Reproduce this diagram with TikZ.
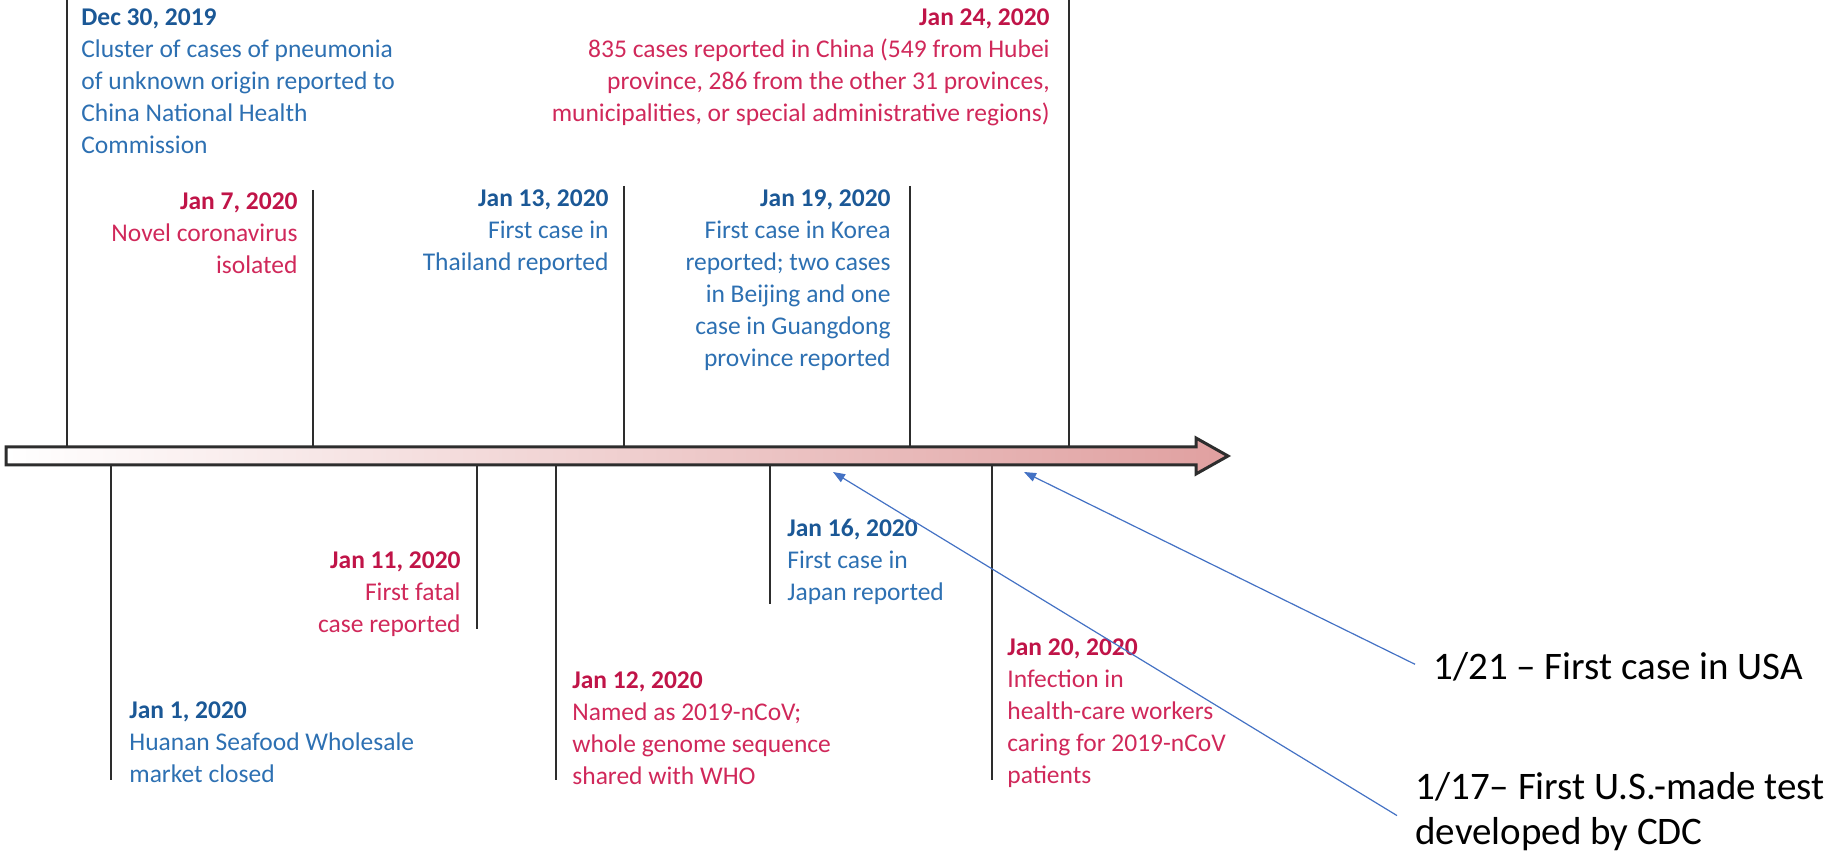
\documentclass[tikz,border=0pt]{standalone}
\usepackage{fontspec}
\setmainfont{Carlito}
\usetikzlibrary{arrows.meta}
\definecolor{bdate}{RGB}{27,88,150}
\definecolor{btext}{RGB}{45,112,178}
\definecolor{rdate}{RGB}{192,20,72}
\definecolor{rtext}{RGB}{208,40,90}
\definecolor{tickc}{RGB}{45,45,45}
\definecolor{axisr}{RGB}{224,160,160}
\definecolor{annc}{RGB}{68,114,196}
\newcommand\dtb[1]{{\bfseries\color{bdate}#1}}
\newcommand\dtr[1]{{\bfseries\color{rdate}#1}}
\begin{document}
\begin{tikzpicture}[x=0.5pt,y=-0.5pt,
  tick/.style={draw=tickc,line width=1pt},
  evb/.style={inner sep=0pt,text=btext,font=\fontsize{12.75}{16}\selectfont},
  evr/.style={inner sep=0pt,text=rtext,font=\fontsize{12.75}{16}\selectfont},
  annot/.style={draw=annc,line width=0.6pt,-{Triangle[length=6pt,width=4.5pt]}},
  note/.style={inner sep=0pt,font=\fontsize{19.5}{22.5}\selectfont,align=left}]
\useasboundingbox (0,0) rectangle (1838,854);
% axis arrow
\path[draw=tickc,line width=1.5pt,line join=miter,left color=white,right color=axisr]
  (6,447) -- (1196,447) -- (1196,438) -- (1228,456) -- (1196,474) -- (1196,465) -- (6,465) -- cycle;
% tick coordinates
\coordinate (a1) at (67,0);    \coordinate (a1b) at (67,447);
\coordinate (a2) at (313,190); \coordinate (a2b) at (313,447);
\coordinate (a3) at (624,186); \coordinate (a3b) at (624,447);
\coordinate (a4) at (910,186); \coordinate (a4b) at (910,447);
\coordinate (a5) at (1069,0);  \coordinate (a5b) at (1069,447);
\coordinate (b1) at (111,465); \coordinate (b1b) at (111,780);
\coordinate (b2) at (477,465); \coordinate (b2b) at (477,629);
\coordinate (b3) at (556,465); \coordinate (b3b) at (556,780);
\coordinate (b4) at (770,465); \coordinate (b4b) at (770,604);
\coordinate (b5) at (992,465); \coordinate (b5b) at (992,780);
\foreach \p in {a1,a2,a3,a4,a5,b1,b2,b3,b4,b5} \draw[tick] (\p) -- (\p b);
% events above
\node[evb,anchor=north west,align=left] (dec30) at (81,8)
  {\dtb{Dec 30, 2019}\\Cluster of cases of pneumonia\\of unknown origin reported to\\China National Health\\Commission};
\node[evr,anchor=north east,align=right] (jan7) at (298,192)
  {\dtr{Jan 7, 2020}\\Novel coronavirus\\isolated};
\node[evb,anchor=north east,align=right] (jan13) at (609,189)
  {\dtb{Jan 13, 2020}\\First case in\\Thailand reported};
\node[evb,anchor=north east,align=right] (jan19) at (891,189)
  {\dtb{Jan 19, 2020}\\First case in Korea\\reported; two cases\\in Beijing and one\\case in Guangdong\\province reported};
\node[evr,anchor=north east,align=right] (jan24) at (1050,8)
  {\dtr{Jan 24, 2020}\\835 cases reported in China (549 from Hubei\\province, 286 from the other 31 provinces,\\municipalities, or special administrative regions)};
% events below
\node[evb,anchor=north west,align=left] (jan1) at (129,701)
  {\dtb{Jan 1, 2020}\\Huanan Seafood Wholesale\\market closed};
\node[evr,anchor=north east,align=right] (jan11) at (461,551)
  {\dtr{Jan 11, 2020}\\First fatal\\case reported};
\node[evr,anchor=north west,align=left] (jan12) at (572,671)
  {\dtr{Jan 12, 2020}\\Named as 2019-nCoV;\\whole genome sequence\\shared with WHO};
\node[evb,anchor=north west,align=left] (jan16) at (787,519)
  {\dtb{Jan 16, 2020}\\First case in\\Japan reported};
\node[evr,anchor=north west,align=left] (jan20) at (1007,638)
  {\dtr{Jan 20, 2020}\\Infection in\\health-care workers\\caring for 2019-nCoV\\patients};
% annotations
\node[note,anchor=base west] (usa) at (1433,680) {1/21 – First case in USA};
\node[note,anchor=north west] (cdc) at (1415,772) {1/17– First U.S.-made test\\developed by CDC};
\coordinate (tipA) at (1024,472);
\coordinate (tipB) at (833,472);
\draw[annot] ([xshift=-9pt,yshift=1.5pt]usa.west) -- (tipA);
\draw[annot] ([xshift=-9pt,yshift=-2pt]cdc.west) -- (tipB);
\end{tikzpicture}
\end{document}
